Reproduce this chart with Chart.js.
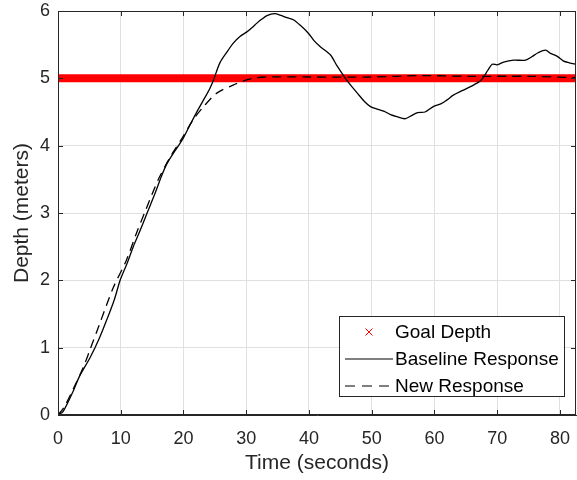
<!DOCTYPE html>
<html>
<head>
<meta charset="utf-8">
<script src="https://cdn.jsdelivr.net/npm/chart.js@4"></script>
<style>
  html, body { margin: 0; padding: 0; background: #fff; }
  #wrap { width: 577px; height: 480px; }
</style>
</head>
<body>
<div id="wrap"><canvas id="depthChart" width="577" height="480"></canvas></div>
<script>
    // values
    const goalTimes = [0, 82.6];
    const goalDepth = [5, 5];

    const baselineTimes = [0, 0.8, 2.4, 3.4, 5.1, 6.5, 7.8, 9.0, 9.9, 11, 12, 13, 14.2, 15.5, 16.5, 17.4,
        18.4, 19.2, 20, 21, 22, 23.2, 24.2, 24.8, 25.8, 27, 27.9, 29, 30.1, 31, 31.7, 32.5, 33.3, 34.5,
        35.4, 36.5, 37.5, 38.7, 39.9, 40.8, 41.8, 43.4, 44.5, 45.8, 46.8, 47.7, 48.8, 49.8, 51, 52, 53,
        54, 55.3, 56.2, 57.3, 58.5, 59.8, 61, 62, 63, 64.5, 66.2, 67.5, 68.5, 69.2, 70, 71, 72.6, 74.5,
        75.5, 76.5, 77.7, 78.5, 79.5, 80.5, 81.5, 82.6];
    const baselineDepth = [0, 0.05, 0.35, 0.57, 0.85, 1.12, 1.42, 1.72, 2.0, 2.25, 2.5, 2.72, 3.0, 3.3, 3.55, 3.74,
        3.89, 4.0, 4.12, 4.3, 4.48, 4.68, 4.85, 4.98, 5.23, 5.4, 5.52, 5.62, 5.69, 5.76, 5.82, 5.88, 5.93, 5.96,
        5.94, 5.9, 5.87, 5.78, 5.67, 5.56, 5.47, 5.35, 5.18, 5.0, 4.88, 4.78, 4.66, 4.58, 4.54, 4.51, 4.46,
        4.43, 4.4, 4.44, 4.49, 4.5, 4.58, 4.62, 4.68, 4.75, 4.82, 4.9, 4.98, 5.12, 5.21, 5.2, 5.24, 5.27, 5.27,
        5.32, 5.38, 5.42, 5.37, 5.33, 5.26, 5.23, 5.21];

    const newTimes = [0, 1, 2.5, 4, 5.1, 6.7, 8.8, 10.9, 12.5, 14, 16, 18, 19.5, 21.5, 23.2, 25.3, 27.9,
        29.5, 31.1, 33, 40, 50, 58, 65, 75, 82.6];
    const newDepth = [0, 0.12, 0.4, 0.7, 0.97, 1.37, 1.89, 2.3, 2.7, 3.05, 3.5, 3.85, 4.07, 4.38, 4.58, 4.78, 4.9,
        4.96, 5.0, 5.02, 5.02, 5.02, 5.04, 5.03, 5.03, 5.01];

    const xTicks = [0, 10, 20, 30, 40, 50, 60, 70, 80];
    const yTicks = [0, 1, 2, 3, 4, 5, 6];
    const legendLabels = ['Goal Depth', 'Baseline Response', 'New Response'];

    const FONT = "'Liberation Sans', Arial, Helvetica, sans-serif";
    const AXIS_COLOR = '#262626';

    function toPoints(xs, ys) {
        return xs.map((x, i) => ({ x: x, y: ys[i] }));
    }

    // box, inward ticks and legend like the matlab figure
    const matlabFrame = {
        id: 'matlabFrame',
        afterDraw(chart) {
            const { ctx, chartArea: a, scales } = chart;
            ctx.save();
            ctx.strokeStyle = AXIS_COLOR;
            ctx.lineWidth = 1;
            ctx.strokeRect(a.left + 0.5, a.top + 0.5, a.right - a.left - 1, a.bottom - a.top - 1);

            const tl = 5;
            ctx.beginPath();
            xTicks.forEach(v => {
                const px = Math.round(scales.x.getPixelForValue(v)) + 0.5;
                ctx.moveTo(px, a.bottom); ctx.lineTo(px, a.bottom - tl);
                ctx.moveTo(px, a.top); ctx.lineTo(px, a.top + tl);
            });
            yTicks.forEach(v => {
                const py = Math.round(scales.y.getPixelForValue(v)) + 0.5;
                ctx.moveTo(a.left, py); ctx.lineTo(a.left + tl, py);
                ctx.moveTo(a.right, py); ctx.lineTo(a.right - tl, py);
            });
            ctx.stroke();

            // legend box
            const bw = 225, bh = 80;
            const bx = a.right - 12 - bw, by = a.bottom - 19 - bh;
            ctx.fillStyle = '#fff';
            ctx.fillRect(bx, by, bw, bh);
            ctx.strokeStyle = AXIS_COLOR;
            ctx.strokeRect(bx + 0.5, by + 0.5, bw, bh);

            const rowY = [by + 16, by + 43, by + 70];
            ctx.font = '19px ' + FONT;
            ctx.fillStyle = '#000';
            ctx.textBaseline = 'middle';
            legendLabels.forEach((t, i) => ctx.fillText(t, bx + 56, rowY[i] + 1));

            // red x marker
            const mx = bx + 30, my = rowY[0], r = 3.5;
            ctx.strokeStyle = '#ff0000';
            ctx.lineWidth = 1;
            ctx.beginPath();
            ctx.moveTo(mx - r, my - r); ctx.lineTo(mx + r, my + r);
            ctx.moveTo(mx - r, my + r); ctx.lineTo(mx + r, my - r);
            ctx.stroke();

            ctx.strokeStyle = '#000';
            ctx.lineWidth = 1.2;
            ctx.beginPath();
            ctx.moveTo(bx + 6, rowY[1]); ctx.lineTo(bx + 54, rowY[1]);
            ctx.stroke();
            ctx.setLineDash([10, 7]);
            ctx.beginPath();
            ctx.moveTo(bx + 6, rowY[2]); ctx.lineTo(bx + 56, rowY[2]);
            ctx.stroke();
            ctx.restore();
        }
    };

    const ctx = document.getElementById('depthChart').getContext('2d');

    const depthChart = new Chart(ctx, {
        type: 'line',
        data: {
            datasets: [
                {
                    label: legendLabels[1],
                    data: toPoints(baselineTimes, baselineDepth),
                    borderColor: '#000',
                    borderWidth: 1.3,
                    pointRadius: 0,
                    tension: 0.3,
                    order: 1
                },
                {
                    label: legendLabels[2],
                    data: toPoints(newTimes, newDepth),
                    borderColor: '#000',
                    borderWidth: 1.3,
                    borderDash: [9, 6],
                    pointRadius: 0,
                    tension: 0.3,
                    order: 2
                },
                {
                    label: legendLabels[0],
                    data: toPoints(goalTimes, goalDepth),
                    borderColor: '#ff0000',
                    borderWidth: 8,
                    pointRadius: 0,
                    order: 3
                }
            ]
        },
        options: {
            responsive: false,
            animation: false,
            layout: { padding: { top: 11, right: 1, left: 0, bottom: 0 } },
            scales: {
                x: {
                    type: 'linear',
                    min: 0,
                    max: 82.55,
                    afterBuildTicks: scale => { scale.ticks = xTicks.map(v => ({ value: v })); },
                    afterFit: scale => {
                        scale.height = 65;
                        scale.paddingLeft = 0;
                        scale.paddingRight = 0;
                    },
                    grid: { color: '#e0e0e0', drawTicks: false },
                    border: { color: AXIS_COLOR, width: 1 },
                    ticks: { color: AXIS_COLOR, padding: 13, maxRotation: 0, font: { family: FONT, size: 18 } },
                    title: {
                        display: true,
                        text: 'Time (seconds)',
                        color: AXIS_COLOR,
                        padding: { top: 0, bottom: 4 },
                        font: { family: FONT, size: 21 }
                    }
                },
                y: {
                    min: 0,
                    max: 6,
                    afterBuildTicks: scale => { scale.ticks = yTicks.map(v => ({ value: v })); },
                    afterFit: scale => {
                        scale.width = 58;
                        scale.paddingTop = 0;
                        scale.paddingBottom = 0;
                    },
                    grid: { color: '#e0e0e0', drawTicks: false },
                    border: { color: AXIS_COLOR, width: 1 },
                    ticks: { color: AXIS_COLOR, padding: 8, font: { family: FONT, size: 18 } },
                    title: {
                        display: true,
                        text: 'Depth (meters)',
                        color: AXIS_COLOR,
                        padding: { top: 10, bottom: 0 },
                        font: { family: FONT, size: 21 }
                    }
                }
            },
            plugins: {
                legend: { display: false },
                tooltip: { enabled: false }
            }
        },
        plugins: [matlabFrame]
    });
</script>
</body>
</html>
